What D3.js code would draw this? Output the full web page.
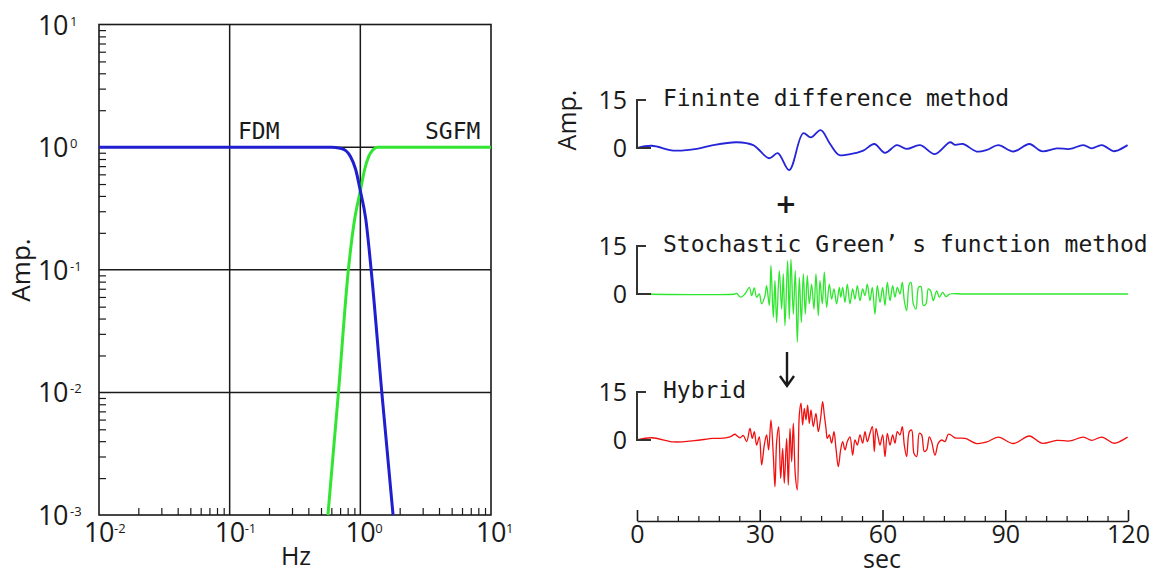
<!DOCTYPE html>
<html>
<head>
<meta charset="utf-8">
<script src="https://cdn.jsdelivr.net/npm/d3@7"></script>
<style>
  body { margin: 0; background: #fff; }
  svg { display: block; }
</style>
</head>
<body>
<div id="chart"></div>
<script>
// ---- data: filter response (Hz vs amplitude) ----
const fdmFreq = [0.01, 0.6, 0.7, 0.78, 0.84, 0.92, 1.0, 1.1, 1.21, 1.46, 1.78];
const fdmAmp  = [1, 1, 0.98, 0.93, 0.84, 0.66, 0.44, 0.26, 0.1, 0.01, 0.001];
const sgfmFreq = [0.565, 0.68, 0.81, 0.9, 1.0, 1.08, 1.16, 1.25, 1.35, 10];
const sgfmAmp  = [0.001, 0.01, 0.1, 0.25, 0.44, 0.66, 0.84, 0.95, 1, 1];

const hzDecades  = [-2, -1, 0, 1];
const ampDecades = [-3, -2, -1, 0, 1];

// ---- data: waveforms [sec, amp] ----
const fdmWave = [[0,0],[3.6,0.7],[8.9,-0.8],[14.6,-0.3],[18.6,0.9],[24.4,1.8],[28.4,0.9],[32.3,-3.2],
  [34.4,-1.6],[37.2,-6.9],[40.6,4.6],[42.5,3.3],[44.9,5.6],[47.2,1.25],[49.4,-2.2],[52.1,-1.9],
  [55.3,-0.8],[58.0,1.25],[60.6,-1.5],[63.5,0.9],[65.9,-0.3],[69.2,0.9],[72.8,-1.9],[76.5,1.8],
  [77.7,1.0],[79.7,1.25],[83.0,-1.1],[85.5,-0.6],[88.3,0.9],[92.0,-1.1],[95.9,1.25],[98.9,-1.0],
  [102.6,-0.1],[105.8,-0.3],[109.1,0.9],[111.1,-0.1],[113.6,0.9],[116.4,-1.0],[117.4,-0.8],[119.9,0.9]];

const sgfmWave = [[0,0],[23.95,0],[24.35,0.2],[25.33,-1.0],[26.39,0],[27.45,2.1],[28.02,-0.5],[28.67,1.9],
  [29.24,-1.0],[29.89,0],[30.46,-3.1],[31.28,-0.5],[31.68,2.6],[32.34,-3.6],[32.74,8.9],[33.31,-7.3],
  [33.72,4.2],[34.13,-8.9],[34.78,7.3],[35.35,-4.7],[35.76,6.3],[36.16,-9.9],[36.82,10.4],[37.22,-7.8],
  [37.63,10.9],[38.2,-6.3],[38.69,7.3],[39.18,-15.1],[39.67,5.2],[40.16,-8.9],[40.65,6.3],[41.13,-6.3],
  [41.62,5.7],[42.11,-3.1],[42.68,3.1],[43.25,-4.7],[43.74,6.3],[44.31,-6.8],[44.72,4.2],[45.29,-3.1],
  [45.78,6.8],[46.35,-4.2],[47.0,3.1],[47.57,-1.6],[48.14,1.6],[48.79,-3.1],[49.44,2.1],[49.8,-1.0],
  [50.26,2.1],[50.83,-2.6],[51.4,3.1],[52.05,-3.1],[52.7,1.6],[53.28,-1.6],[53.85,2.6],[54.5,-2.1],
  [55.15,1.6],[55.72,-0.5],[56.29,3.1],[56.94,-2.1],[57.51,2.1],[58.16,-6.3],[58.73,2.6],[59.39,-2.6],
  [60.04,2.1],[60.61,-3.6],[61.18,3.6],[61.83,-2.1],[62.48,2.6],[63.05,-1.0],[63.62,2.1],[64.27,0],
  [64.84,3.6],[65.33,-2.1],[65.9,-5.2],[66.55,3.1],[66.96,3.6],[67.53,-3.1],[68.18,-4.7],[68.83,2.1],
  [69.4,2.3],[69.98,-3.6],[70.63,-3.1],[71.2,1.6],[71.77,1.0],[72.42,-2.1],[73.23,1.0],[73.88,-1.0],
  [74.7,0.5],[75.51,-0.8],[76.49,0],[80,0],[120,0]];

const hybridWave = [[0,0],[3.6,0.7],[9.0,-0.6],[14.0,-0.2],[18.6,0.5],[20.28,0.5],[22.72,1.0],[23.95,1.8],
  [24.35,1.4],[25.17,0.7],[25.98,1.4],[26.8,-0.5],[27.61,3.6],[28.18,0.5],[28.67,2.6],[29.24,-1.6],
  [29.89,1.0],[30.46,-7.8],[31.11,-1.6],[31.68,1.6],[32.17,-3.1],[32.74,6.3],[33.31,-4.7],[33.72,-14.6],
  [34.13,-0.5],[34.62,4.2],[35.11,-12.0],[35.6,-2.6],[36.0,-13.5],[36.57,0.5],[36.98,-14.1],[37.39,3.6],
  [37.8,-6.8],[38.2,5.2],[38.69,-10.9],[39.18,-15.6],[39.67,7.8],[40.08,11.5],[40.48,4.7],[40.89,9.9],
  [41.3,6.3],[41.7,10.9],[42.11,5.2],[42.52,9.4],[43.09,4.2],[43.74,8.3],[44.31,2.6],[44.88,6.8],
  [45.37,12.0],[45.78,7.8],[46.19,3.6],[46.51,0.5],[47.0,1.6],[47.57,-1.0],[48.14,2.6],[48.63,-2.6],
  [49.2,-8.3],[49.77,-3.1],[50.26,-0.5],[50.83,-3.1],[51.4,-0.5],[52.05,1.0],[52.7,-4.7],[53.28,0],
  [53.85,-1.6],[54.5,1.6],[55.15,-1.0],[55.72,2.6],[56.29,-0.5],[56.94,2.1],[57.51,4.2],[58.0,-3.6],
  [58.41,3.6],[58.98,0.5],[59.39,-1.6],[60.04,1.6],[60.61,-5.2],[61.18,2.1],[61.83,-1.6],[62.48,1.6],
  [63.05,-1.0],[63.62,2.6],[64.27,1.6],[64.84,4.2],[65.33,-1.6],[65.9,-5.2],[66.55,2.6],[67.12,3.1],
  [67.7,-4.2],[68.35,-5.2],[69.0,2.1],[69.57,1.6],[70.22,-3.6],[70.79,-3.1],[71.44,1.0],[72.0,-0.5],
  [72.83,-4.7],[73.64,-1.0],[74.46,0],[75.27,-0.5],[76.08,1.8],[76.9,1.4],[77.71,0.7],[80.2,0.5],
  [83.0,-1.1],[85.5,-0.6],[88.3,0.9],[92.0,-1.1],[95.9,1.25],[98.9,-1.0],[102.6,-0.1],[105.8,-0.3],
  [109.1,0.9],[111.1,-0.1],[113.6,0.9],[116.4,-1.0],[117.4,-0.8],[119.9,0.9]];

const waveTitles = ["Fininte difference method", "Stochastic Green\u2019 s function method", "Hybrid"];
const secTicks = [0, 30, 60, 90, 120];

// ---- layout ----
const width = 1157, height = 574;
const ink = "#1a1a1a";
const numFont = "'Open Sans', 'Noto Sans', sans-serif";
const gothic = "'DejaVu Sans Mono', monospace";

const svg = d3.select("#chart").append("svg")
  .attr("width", width).attr("height", height);

// ================= left: filters =================
const xF = d3.scaleLog().domain([1e-2, 1e1]).range([99, 491]);
const yF = d3.scaleLog().domain([1e-3, 1e1]).range([515, 24.5]);

const left = svg.append("g");
const isDecade = d => Math.abs(Math.log10(d) - Math.round(Math.log10(d))) < 1e-6;

// minor ticks (inside)
left.append("g").attr("transform", "translate(99,0)")
  .call(d3.axisLeft(yF).tickValues(yF.ticks().filter(d => !isDecade(d))).tickSize(-7).tickFormat(""))
  .call(g => g.select(".domain").remove())
  .call(g => g.selectAll("line").attr("stroke", ink).attr("stroke-width", 1.2));
left.append("g").attr("transform", "translate(0,515)")
  .call(d3.axisBottom(xF).tickValues(xF.ticks().filter(d => !isDecade(d))).tickSize(-7).tickFormat(""))
  .call(g => g.select(".domain").remove())
  .call(g => g.selectAll("line").attr("stroke", ink).attr("stroke-width", 1.2));

// grid
left.selectAll(".vgrid").data(hzDecades.slice(1, -1)).enter().append("line")
  .attr("x1", d => xF(10 ** d)).attr("x2", d => xF(10 ** d))
  .attr("y1", yF(10)).attr("y2", yF(1e-3))
  .attr("stroke", ink).attr("stroke-width", 1.5);
left.selectAll(".hgrid").data(ampDecades.slice(1, -1)).enter().append("line")
  .attr("y1", d => yF(10 ** d)).attr("y2", d => yF(10 ** d))
  .attr("x1", xF(0.01)).attr("x2", xF(10))
  .attr("stroke", ink).attr("stroke-width", 1.5);
left.append("rect")
  .attr("x", xF(0.01)).attr("y", yF(10))
  .attr("width", xF(10) - xF(0.01)).attr("height", yF(1e-3) - yF(10))
  .attr("fill", "none").attr("stroke", ink).attr("stroke-width", 1.6);

// curves
const respLine = d3.line().x(d => xF(d[0])).y(d => yF(d[1])).curve(d3.curveMonotoneX);
left.append("path").datum(sgfmFreq.map((f, i) => [f, sgfmAmp[i]]))
  .attr("d", respLine).attr("fill", "none").attr("stroke", "#33e533").attr("stroke-width", 3);
left.append("path").datum(fdmFreq.map((f, i) => [f, fdmAmp[i]]))
  .attr("d", respLine).attr("fill", "none").attr("stroke", "#1f1fcf").attr("stroke-width", 3);

// tick labels 10^n
ampDecades.forEach(e => {
  const y = yF(10 ** e);
  left.append("text").attr("x", 68).attr("y", y + 10).attr("text-anchor", "end")
    .attr("font-family", numFont).attr("font-size", 27).attr("letter-spacing", -0.5).attr("fill", ink).text("10");
  left.append("text").attr("x", 70).attr("y", y + 1)
    .attr("font-family", numFont).attr("font-size", 13).attr("fill", ink).text(e);
});
hzDecades.forEach(e => {
  const x = xF(10 ** e);
  left.append("text").attr("x", x).attr("y", 542).attr("text-anchor", "middle")
    .attr("font-family", numFont).attr("font-size", 27).attr("letter-spacing", -0.5).attr("fill", ink).text("10");
  left.append("text").attr("x", x + 15).attr("y", 533)
    .attr("font-family", numFont).attr("font-size", 13).attr("fill", ink).text(e);
});

left.append("text").attr("x", 296).attr("y", 565).attr("text-anchor", "middle")
  .attr("font-family", numFont).attr("font-size", 25).attr("fill", ink).text("Hz");
left.append("text").attr("transform", "translate(30,270) rotate(-90)").attr("text-anchor", "middle")
  .attr("font-family", numFont).attr("font-size", 26).attr("fill", ink).text("Amp.");

left.append("text").attr("x", 238).attr("y", 139)
  .attr("font-family", gothic).attr("font-size", 23).attr("fill", ink).text("FDM");
left.append("text").attr("x", 425).attr("y", 139)
  .attr("font-family", gothic).attr("font-size", 23).attr("fill", ink).text("SGFM");

// ================= right: waveforms =================
const xT = d3.scaleLinear().domain([0, 120]).range([637, 1128]);
const right = svg.append("g");

const panelZero = [148, 294, 440];
const waves = [fdmWave, sgfmWave, hybridWave];
const waveColors = ["#2424d8", "#2ee62e", "#f01010"];
const waveWidths = [1.8, 1.3, 1.3];

waves.forEach((w, i) => {
  const yS = d3.scaleLinear().domain([0, 15]).range([panelZero[i], panelZero[i] - 48]);
  const g = right.append("g");
  g.append("path").datum(w)
    .attr("d", d3.line().x(d => xT(d[0])).y(d => yS(d[1])).curve(d3.curveCatmullRom))
    .attr("fill", "none").attr("stroke", waveColors[i]).attr("stroke-width", waveWidths[i])
    .attr("stroke-linejoin", "round");
  // amplitude bracket
  g.append("path")
    .attr("d", `M${xT(0) + 14},${yS(0)}H${xT(0)}V${yS(15)}H${xT(0) + 9}`)
    .attr("fill", "none").attr("stroke", "#333").attr("stroke-width", 2);
  g.append("text").attr("x", 627).attr("y", yS(15) + 9).attr("text-anchor", "end")
    .attr("font-family", numFont).attr("font-size", 25).attr("fill", ink).text("15");
  g.append("text").attr("x", 627).attr("y", yS(0) + 9).attr("text-anchor", "end")
    .attr("font-family", numFont).attr("font-size", 25).attr("fill", ink).text("0");
  g.append("text").attr("x", 663).attr("y", yS(15) + 6)
    .attr("font-family", gothic).attr("font-size", 23).attr("fill", ink).text(waveTitles[i]);
});

right.append("text").attr("transform", "translate(576,120) rotate(-90)").attr("text-anchor", "middle")
  .attr("font-family", numFont).attr("font-size", 25).attr("fill", ink).text("Amp.");

// plus and arrow
right.append("text").attr("x", 786).attr("y", 213).attr("text-anchor", "middle")
  .attr("font-family", "'DejaVu Sans', sans-serif").attr("font-weight", "bold").attr("font-size", 26)
  .attr("fill", ink).text("+");
right.append("path").attr("d", "M787,352V385M780,376L787,386L794,376")
  .attr("fill", "none").attr("stroke", ink).attr("stroke-width", 2.4);

// time axis
const minorSec = d3.range(0, 121, 5).filter(d => d % 30 !== 0);
right.append("g").attr("transform", "translate(0,521)")
  .call(d3.axisBottom(xT).tickValues(minorSec).tickSize(-5).tickSizeOuter(0).tickFormat(""))
  .call(g => g.select(".domain").remove())
  .call(g => g.selectAll("line").attr("stroke", ink).attr("stroke-width", 1.2));
right.append("g").attr("transform", "translate(0,521)")
  .call(d3.axisBottom(xT).tickValues(secTicks).tickSize(-11).tickSizeOuter(0).tickPadding(4))
  .call(g => g.select(".domain").attr("stroke", ink).attr("stroke-width", 1.6))
  .call(g => g.selectAll("line").attr("stroke", ink).attr("stroke-width", 1.6))
  .call(g => g.selectAll("text").attr("font-family", numFont).attr("font-size", 25).attr("fill", ink));
right.append("text").attr("x", 882).attr("y", 568).attr("text-anchor", "middle")
  .attr("font-family", numFont).attr("font-size", 25).attr("fill", ink).text("sec");
</script>
</body>
</html>
